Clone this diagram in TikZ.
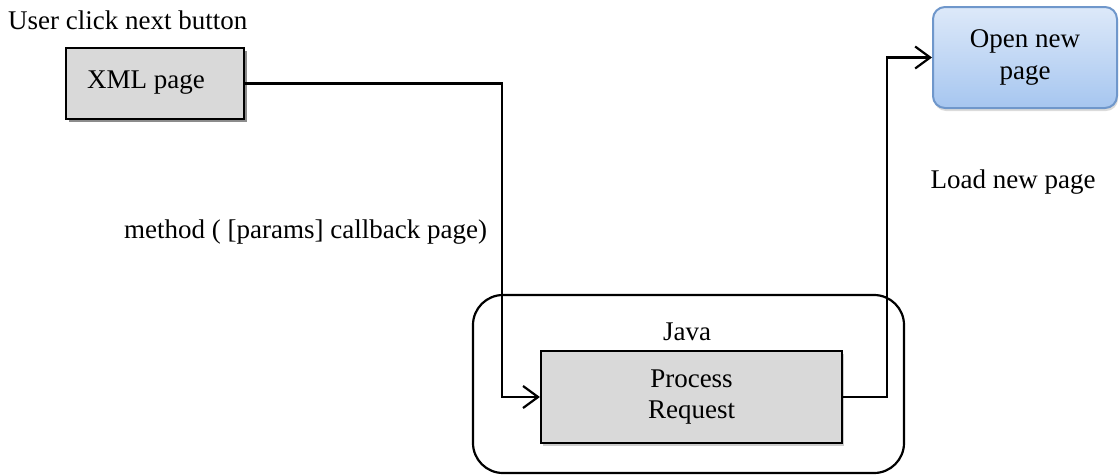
\documentclass[tikz,border=0pt]{standalone}
\usepackage{fontspec}
\setmainfont{Liberation Serif}
\usetikzlibrary{arrows.meta,shadows,positioning}
\definecolor{boxgray}{HTML}{D9D9D9}
\definecolor{bluetop}{HTML}{DDE9F9}
\definecolor{bluebot}{HTML}{A6C6F0}
\definecolor{blueedge}{HTML}{6F97CB}
\begin{document}
\begin{tikzpicture}[x=1pt,y=-1pt,
  every node/.style={font=\fontsize{27}{32}\selectfont, inner sep=0pt},
  graybox/.style={draw=black, line width=2.2pt, fill=boxgray},
  conn/.style={draw=black, line width=2.2pt},
  tip/.style={-{Straight Barb[length=15pt,width=22pt,line width=2.2pt]}}
]
\useasboundingbox (0,0) rectangle (1119,475);
% Java container
\node[draw=black, line width=2.2pt, rounded corners=30pt, minimum width=431pt, minimum height=178pt] (java) at (688.5,384) {};
\node (javalbl) at (687,332) {Java};
% XML page
\node[graybox, drop shadow={shadow xshift=3pt, shadow yshift=-3pt, fill=black!45, opacity=1},
  minimum width=178pt, minimum height=71pt] (xml) at (155,83.5) {};
\node[anchor=west] (xmltxt) at (87,83) {XML page};
% Process request
\node[graybox, drop shadow={shadow xshift=2pt, shadow yshift=-3pt, fill=black!25, opacity=0.8},
  minimum width=301pt, minimum height=92pt, align=center] (proc) at (691.5,397) {Process\\[-1pt]Request};
% Open new page
\node[draw=blueedge, line width=2pt, rounded corners=12pt, top color=bluetop, bottom color=bluebot,
  drop shadow={shadow xshift=1pt, shadow yshift=-3pt, fill=black!20, opacity=0.7},
  minimum width=184pt, minimum height=101pt, align=center] (open) at (1025,57.5) {Open new\\page};
% labels
\node[anchor=west] (user) at (8,20) {User click next button};
\node[anchor=west] (method) at (124,232) {method ( [params] callback page)};
\node (load) at (1013,182) {Load new page};
% connectors
\coordinate (c1) at (502,200);
\coordinate (c2) at (887,200);
\draw[conn, tip] (xml.east) -| (c1) |- (proc.west);
\draw[conn, tip] (proc.east) -| (c2) |- (open.west);
\end{tikzpicture}
\end{document}
